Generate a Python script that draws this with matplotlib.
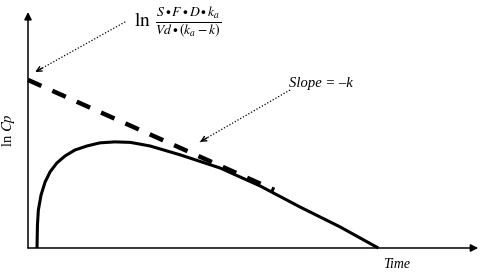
import matplotlib
matplotlib.use("Agg")
import matplotlib.pyplot as plt
import numpy as np

plt.rcParams['mathtext.fontset'] = 'stix'
plt.rcParams['font.family'] = ['Liberation Serif', 'DejaVu Serif']

# ln Cp vs time (arbitrary units)
t_curve = [0.20, 0.21, 0.23, 0.29, 0.38, 0.49, 0.64, 0.82, 1.04, 1.31, 1.60,
           1.93, 2.27, 2.71, 3.38, 4.27, 5.16, 6.04, 6.93, 7.78]
lncp_curve = [0.0, 0.96, 1.58, 2.21, 2.75, 3.17, 3.54, 3.83, 4.08, 4.25, 4.38,
              4.42, 4.40, 4.25, 3.88, 3.33, 2.58, 1.71, 0.88, 0.0]

# back-extrapolated terminal line
t_extrap = [0.0, 5.47]
lncp_extrap = [7.0, 2.42]

x_max = 10.0
y_max = 9.83

fig = plt.figure(figsize=(4.8, 2.72), dpi=100)
ax = fig.add_axes([0, 0, 1, 1])
ax.set_xlim(-0.622, 10.04)
ax.set_ylim(-1.0, 10.33)
ax.axis('off')

# axes with arrows
ax.annotate('', xy=(0, y_max), xytext=(0, 0),
            arrowprops=dict(arrowstyle='-|>', lw=1.1, color='k', mutation_scale=11,
                            shrinkA=0, shrinkB=0))
ax.annotate('', xy=(x_max, 0), xytext=(0, 0),
            arrowprops=dict(arrowstyle='-|>', lw=1.1, color='k', mutation_scale=11,
                            shrinkA=0, shrinkB=0))

ax.plot(t_curve, lncp_curve, color='k', lw=2.2, solid_capstyle='butt')
ax.plot(t_extrap, lncp_extrap, color='k', lw=3.2, dashes=(3.3, 2.7),
        dash_capstyle='butt')

# dotted pointers
def pointer(x0, y0, x1, y1):
    ax.plot([x0, x1], [y0, y1], color='k', lw=0.9, ls=(0, (1, 1.5)))
    dx, dy = x1 - x0, y1 - y0
    ax.annotate('', xy=(x1, y1), xytext=(x1 - 0.08 * dx, y1 - 0.08 * dy),
                arrowprops=dict(arrowstyle='->', lw=1.0, color='k',
                                mutation_scale=9, shrinkA=0, shrinkB=0))

pointer(2.16, 9.42, 0.16, 7.33)
pointer(5.82, 6.58, 3.82, 4.42)

ax.text(2.36, 9.42, r'$\ln\;\frac{S\bullet F\bullet D\bullet k_a}{Vd\bullet(k_a-k)}$',
        fontsize=14, ha='left', va='center')
ax.text(5.8, 6.85, 'Slope = \u2013k', fontsize=10.5, style='italic',
        ha='left', va='center')
ax.text(8.18, -0.67, 'Time', fontsize=10, style='italic', ha='center', va='center')
ax.text(-0.44, 4.92, r'ln $\mathit{Cp}$', fontsize=10.5, rotation=90,
        ha='center', va='center')

fig.savefig('out.png', dpi=100)
